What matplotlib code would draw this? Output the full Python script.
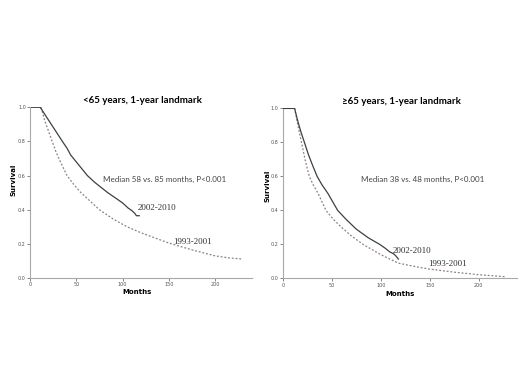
import matplotlib
matplotlib.use('Agg')
import matplotlib.pyplot as plt

# <65 years, 1-year landmark
young_new_months = [0, 11, 17, 23, 29, 35, 40, 44, 50, 56, 62, 70, 77, 84, 92, 100, 106, 110, 113, 115, 118]
young_new_surv = [1.0, 1.0, 0.95, 0.90, 0.85, 0.80, 0.76, 0.72, 0.68, 0.64, 0.60, 0.56, 0.53, 0.50,
                  0.47, 0.44, 0.41, 0.395, 0.38, 0.365, 0.365]
young_old_months = [0, 12, 16, 20, 24, 28, 32, 36, 40, 47, 55, 65, 75, 90, 105, 120, 135, 150, 175,
                    200, 215, 228]
young_old_surv = [1.0, 1.0, 0.92, 0.86, 0.80, 0.74, 0.69, 0.645, 0.60, 0.55, 0.50, 0.45, 0.40, 0.345,
                  0.30, 0.265, 0.235, 0.205, 0.165, 0.13, 0.118, 0.112]

# >=65 years, 1-year landmark
old_new_months = [0, 12, 15, 18, 22, 26, 30, 35, 40, 46, 51, 56, 65, 75, 87, 99, 104, 109, 113, 115, 118]
old_new_surv = [1.0, 1.0, 0.93, 0.87, 0.80, 0.73, 0.67, 0.60, 0.55, 0.50, 0.45, 0.40, 0.345, 0.29,
                0.24, 0.20, 0.18, 0.157, 0.145, 0.135, 0.114]
old_old_months = [0, 12, 15, 19, 23, 27, 31, 36, 40, 44, 52, 60, 70, 82, 100, 118, 135, 150, 175, 200, 228]
old_old_surv = [1.0, 1.0, 0.91, 0.80, 0.69, 0.60, 0.55, 0.50, 0.45, 0.40, 0.345, 0.30, 0.25, 0.20,
                0.14, 0.09, 0.07, 0.055, 0.037, 0.022, 0.01]

titles = ['<65 years, 1-year landmark', '\u226565 years, 1-year landmark']
medians = ['Median 58 vs. 85 months, P<0.001', 'Median 38 vs. 48 months, P<0.001']
x_ticks = [0, 50, 100, 150, 200]
y_ticks = [0.0, 0.2, 0.4, 0.6, 0.8, 1.0]

SOLID = '#3c423c'
DOTTED = '#907c90'
SPINE = '#a8a8a8'

fig = plt.figure(figsize=(5.2, 3.9), dpi=100)
ax1 = fig.add_axes([0.0577, 0.287, 0.429, 0.438])
ax2 = fig.add_axes([0.544, 0.286, 0.45, 0.436])

panels = [
    (ax1, young_new_months, young_new_surv, young_old_months, young_old_surv, 241,
     (79, 0.58), (116, 0.41), (155, 0.21)),
    (ax2, old_new_months, old_new_surv, old_old_months, old_old_surv, 239,
     (79.6, 0.584), (112, 0.16), (148, 0.084)),
]

for i, (ax, nm, ns, om, os_, xmax, med_pos, new_pos, old_pos) in enumerate(panels):
    ax.plot(om, os_, color=DOTTED, lw=0.9, linestyle=(0, (1.5, 1.5)))
    ax.plot(nm, ns, color=SOLID, lw=0.9)
    ax.set_xlim(0, xmax)
    ax.set_ylim(0, 1.0)
    ax.set_xticks(x_ticks)
    ax.set_yticks(y_ticks)
    ax.set_xticklabels([str(t) for t in x_ticks])
    ax.set_yticklabels(['%.1f' % t for t in y_ticks])
    ax.tick_params(labelsize=3.5, length=2, width=0.5, colors='#555555', pad=1)
    for s in ['top', 'right']:
        ax.spines[s].set_visible(False)
    for s in ['left', 'bottom']:
        ax.spines[s].set_color(SPINE)
        ax.spines[s].set_linestyle((0, (2, 1)))
        ax.spines[s].set_linewidth(0.8)
    ax.text(0.505, 1.04, titles[i], transform=ax.transAxes, ha='center', va='center',
            fontsize=7, fontweight='bold', family='Lato')
    ax.text(med_pos[0], med_pos[1], medians[i], ha='left', va='center',
            fontsize=5.8, color='#444444', family='Lato')
    ax.text(new_pos[0], new_pos[1], '2002-2010', ha='left', va='center',
            fontsize=6.5, color='#333333', family='Liberation Serif')
    ax.text(old_pos[0], old_pos[1], '1993-2001', ha='left', va='center',
            fontsize=6.5, color='#333333', family='Liberation Serif')

fig.text(13 / 520, 1 - 180 / 390, 'Survival', rotation=90, ha='center', va='center',
         fontsize=5, fontweight='bold')
fig.text(267 / 520, 1 - 186 / 390, 'Survival', rotation=90, ha='center', va='center',
         fontsize=5, fontweight='bold')
fig.text(137 / 520, 1 - 292 / 390, 'Months', ha='center', va='center',
         fontsize=5, fontweight='bold')
fig.text(400 / 520, 1 - 294 / 390, 'Months', ha='center', va='center',
         fontsize=5, fontweight='bold')

fig.savefig('out.png', dpi=100)
